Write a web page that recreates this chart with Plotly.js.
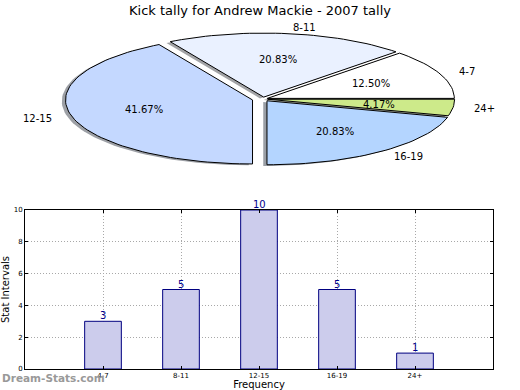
<!DOCTYPE html>
<html>
<head>
<meta charset="utf-8">
<script src="https://cdn.plot.ly/plotly-3.0.1.min.js"></script>
<style>html,body{margin:0;padding:0;background:#fff;}#chart{width:520px;height:390px;}</style>
</head>
<body>
<div id="chart"></div>
<script>
// ---- data ----
const categories = ['4-7', '8-11', '12-15', '16-19', '24+'];
const counts = [3, 5, 10, 5, 1];
const yTicks = [0, 2, 4, 6, 8, 10];
const chartTitle = 'Kick tally for Andrew Mackie - 2007 tally';
const xTitle = 'Frequency';
const yTitle = 'Stat Intervals';
const watermark = 'Dream-Stats.com';

// ---- style ----
const W = 520, H = 390;
const FONT = 'DejaVu Sans, sans-serif';
const pieColors = ['#ffffff', '#eaf1ff', '#c4d8ff', '#b4d5ff', '#cdea8a'];
const explode = [0.025, 0.03, 0.058, 0.035, 0.025];
const CX = 263, CY = 99, RX = 187, RY = 64;   // pie centre / radii in pixels
const pieBottomPx = 195;                        // pie axes occupy top 195 px
const barLeft = 25, barRight = 493, barTop = 210, barBottom = 369;

// pie axes ranges so that unit circle -> ellipse of RX x RY px
const pxRange = [(0 - CX) / RX, (W - CX) / RX];
const pyRange = [-(pieBottomPx - CY) / RY, CY / RY];

const total = counts.reduce((a, b) => a + b, 0);
const traces = [];
const annotations = [];
const shadowDX = -0.02, shadowDY = -0.02;

function wedge(a0, a1, ox, oy) {
  const xs = [ox], ys = [oy];
  const n = Math.max(8, Math.ceil((a1 - a0) / (Math.PI / 90)));
  for (let i = 0; i <= n; i++) {
    const a = a0 + (a1 - a0) * i / n;
    xs.push(ox + Math.cos(a));
    ys.push(oy + Math.sin(a));
  }
  xs.push(ox); ys.push(oy);
  return {xs, ys};
}
function darken(hex) {
  const r = parseInt(hex.slice(1, 3), 16), g = parseInt(hex.slice(3, 5), 16), b = parseInt(hex.slice(5, 7), 16);
  return `rgba(${Math.round(r * 0.3)},${Math.round(g * 0.3)},${Math.round(b * 0.3)},0.5)`;
}

const slices = [];
let acc = 0;
counts.forEach((v, i) => {
  const a0 = 2 * Math.PI * acc / total;
  acc += v;
  const a1 = 2 * Math.PI * acc / total;
  const mid = (a0 + a1) / 2;
  const ox = explode[i] * Math.cos(mid), oy = explode[i] * Math.sin(mid);
  slices.push({a0, a1, mid, ox, oy, i, v});
});

// shadows
slices.forEach(s => {
  const w = wedge(s.a0, s.a1, s.ox + shadowDX, s.oy + shadowDY);
  traces.push({type: 'scatter', mode: 'lines', x: w.xs, y: w.ys, xaxis: 'x2', yaxis: 'y2',
    fill: 'toself', fillcolor: darken(pieColors[s.i]), line: {width: 0, color: 'rgba(0,0,0,0)'},
    hoverinfo: 'skip', showlegend: false});
});
// wedges
slices.forEach(s => {
  const w = wedge(s.a0, s.a1, s.ox, s.oy);
  traces.push({type: 'scatter', mode: 'lines', x: w.xs, y: w.ys, xaxis: 'x2', yaxis: 'y2',
    fill: 'toself', fillcolor: pieColors[s.i], line: {width: 1, color: '#000'},
    name: categories[s.i], hoverinfo: 'name', showlegend: false});
  const lx = s.ox + 1.1 * Math.cos(s.mid), ly = s.oy + 1.1 * Math.sin(s.mid);
  annotations.push({xref: 'x2', yref: 'y2', x: lx, y: ly, text: categories[s.i], showarrow: false,
    xanchor: lx >= 0 ? 'left' : 'right', yanchor: 'middle', font: {family: FONT, size: 10, color: '#000'}});
  const px = s.ox + 0.6 * Math.cos(s.mid), py = s.oy + 0.6 * Math.sin(s.mid);
  annotations.push({xref: 'x2', yref: 'y2', x: px, y: py, text: (100 * s.v / total).toFixed(2) + '%',
    showarrow: false, xanchor: 'center', yanchor: 'middle', font: {family: FONT, size: 10, color: '#000'}});
});

// bars
traces.push({type: 'bar', x: categories, y: counts, xaxis: 'x', yaxis: 'y', width: 0.47,
  marker: {color: '#ccccec', line: {color: '#000080', width: 1}}, hoverinfo: 'x+y', showlegend: false});
categories.forEach((c, i) => {
  annotations.push({xref: 'x', yref: 'y', x: c, y: counts[i], text: String(counts[i]), showarrow: false,
    xanchor: 'center', yanchor: 'bottom', yshift: -2, font: {family: FONT, size: 10, color: '#00008b'}});
});

annotations.push({xref: 'paper', yref: 'paper', x: 0, y: (H - 378) / H, text: watermark, showarrow: false,
  xanchor: 'left', yanchor: 'middle', font: {family: FONT, size: 10.5, color: '#999999', weight: 'bold'}});

const gridStyle = {showgrid: true, gridcolor: '#a8a8a8', griddash: '1px,2px', gridwidth: 1};

const layout = {
  width: W, height: H,
  margin: {l: 0, r: 0, t: 0, b: 0},
  paper_bgcolor: '#fff', plot_bgcolor: '#fff',
  showlegend: false,
  title: {text: chartTitle, x: 0.5, xanchor: 'center', y: 1 - 10 / H, yanchor: 'middle',
    font: {family: FONT, size: 13, color: '#000'}},
  xaxis2: {domain: [0, 1], range: pxRange, visible: false, fixedrange: true, anchor: 'y2'},
  yaxis2: {domain: [1 - pieBottomPx / H, 1], range: pyRange, visible: false, fixedrange: true, anchor: 'x2'},
  xaxis: Object.assign({domain: [barLeft / W, barRight / W], anchor: 'y', type: 'category', range: [-1, 5],
    showline: true, linecolor: '#000', linewidth: 1, mirror: 'ticks', ticks: 'inside', ticklen: 3,
    tickcolor: '#000', tickfont: {family: FONT, size: 7, color: '#000'}, automargin: false, zeroline: false,
    title: {text: xTitle, standoff: 9, font: {family: FONT, size: 10, color: '#000'}}}, gridStyle),
  yaxis: Object.assign({domain: [(H - barBottom) / H, (H - barTop) / H], anchor: 'x', range: [0, 10],
    tickvals: yTicks, showline: true, linecolor: '#000', linewidth: 1, mirror: 'ticks', ticks: 'inside',
    ticklen: 3, tickcolor: '#000', zeroline: false, tickfont: {family: FONT, size: 7, color: '#000'},
    automargin: false,
    title: {text: yTitle, standoff: 2, font: {family: FONT, size: 10, color: '#000'}}}, gridStyle),
  annotations: annotations
};

Plotly.newPlot('chart', traces, layout, {displayModeBar: false, staticPlot: true});
</script>
</body>
</html>
